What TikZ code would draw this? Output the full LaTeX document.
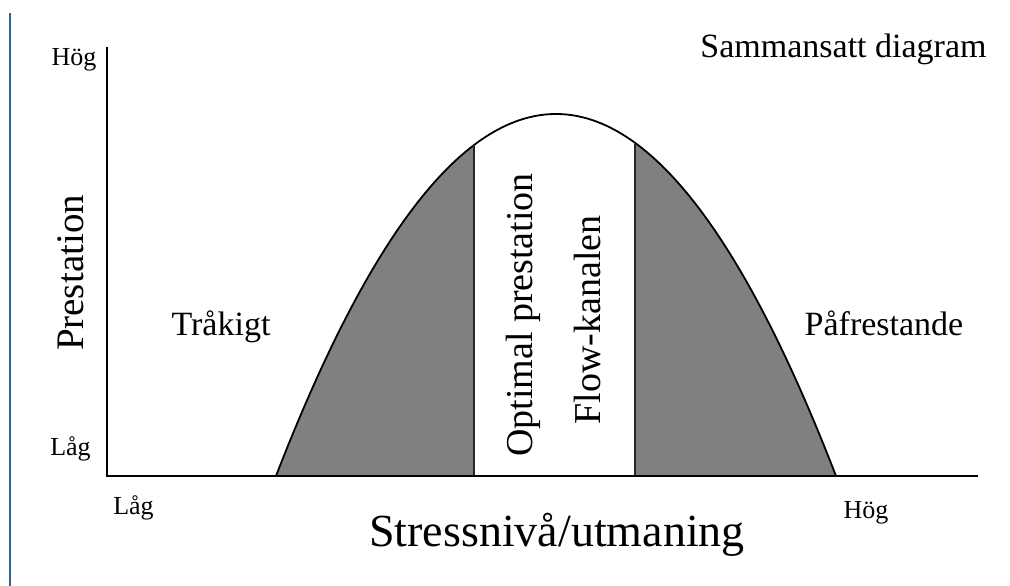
\documentclass[tikz,border=0pt]{standalone}
\usepackage{fontspec}
\setmainfont{Liberation Serif}
\definecolor{edgeblue}{RGB}{50,95,145}
\definecolor{zonegray}{RGB}{128,128,128}
\tikzset{
  lbl/.style={inner sep=0pt, anchor=base, font=\fontsize{34}{40}\selectfont},
  small/.style={inner sep=0pt, anchor=base, font=\fontsize{26}{30}\selectfont},
  vlbl/.style={inner sep=0pt, anchor=base, rotate=90, font=\fontsize{38}{44}\selectfont},
  axis/.style={line width=2.4pt, black},
  curve/.style={line width=1.8pt, black},
  divider/.style={line width=1.6pt, black!85}
}
\newcommand{\parab}[1]{114+362*((#1-556)/280)^2}
\begin{document}
\begin{tikzpicture}[x=1pt,y=-1pt]
\useasboundingbox (0,0) rectangle (1010,586);
% left edge rule
\draw[edgeblue, line width=2pt] (10,13) -- (10,586);
% shaded zones
\fill[zonegray] plot[domain=276:474, samples=80] (\x,{\parab{\x}}) -- (474,476) -- cycle;
\fill[zonegray] plot[domain=635:836, samples=80] (\x,{\parab{\x}}) -- (836,476) -- (635,476) -- cycle;
% curve
\draw[curve] plot[domain=276:836, samples=160] (\x,{\parab{\x}});
% dividers
\coordinate (d1top) at (474,{\parab{474}});
\coordinate (d1bot) at (474,476);
\coordinate (d2top) at (635,{\parab{635}});
\coordinate (d2bot) at (635,476);
\draw[divider] (d1top) -- (d1bot);
\draw[divider] (d2top) -- (d2bot);
% axes
\coordinate (ytop) at (107,48);
\coordinate (origin) at (107,476);
\coordinate (xend) at (977,476);
\draw[axis, line cap=rect] (ytop) -- (origin) -- (xend);
% labels
\node[small] (yhigh) at (74,66) {Hög};
\node[small] (ylow) at (70.5,455) {Låg};
\node[small] (xlow) at (133.5,514) {Låg};
\node[small] (xhigh) at (866,518) {Hög};
\node[inner sep=0pt, anchor=base, font=\fontsize{46}{52}\selectfont] (xtitle) at (557,546) {Stressnivå/utmaning};
\node[inner sep=0pt, anchor=base, rotate=90, font=\fontsize{39}{44}\selectfont] (ytitle) at (83,273) {Prestation};
\node[lbl] (bored) at (221,335) {Tråkigt};
\node[lbl] (stress) at (884,335) {Påfrestande};
\node[lbl] (title) at (843.5,58) {Sammansatt diagram};
\node[vlbl] (optimal) at (532,315) {Optimal prestation};
\node[vlbl] (flow) at (600,320) {Flow-kanalen};
\end{tikzpicture}
\end{document}
